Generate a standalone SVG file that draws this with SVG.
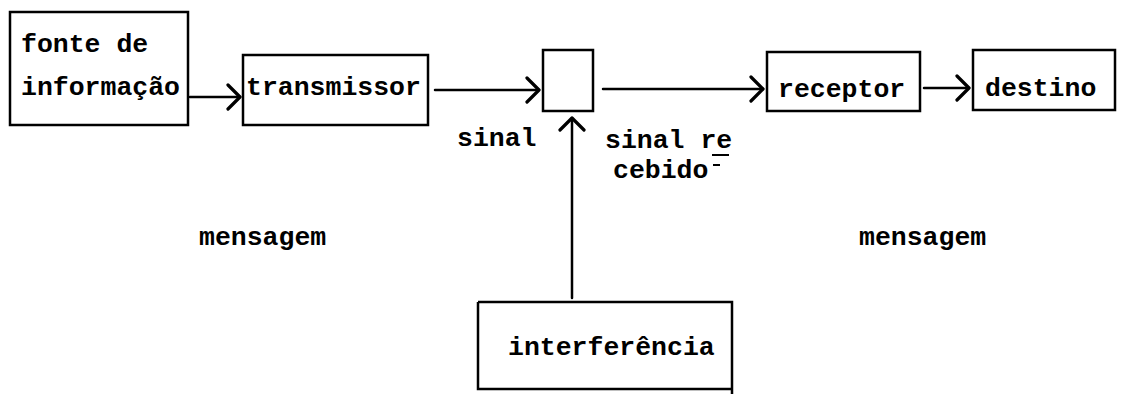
<svg xmlns="http://www.w3.org/2000/svg" width="1123" height="394" viewBox="0 0 1123 394">
<style>
.box{fill:none;stroke:#000;stroke-width:2.5}
.t{font-family:"Liberation Mono","Courier New",monospace;font-size:26.5px;font-weight:bold;fill:#000}
.c{fill:none;stroke:#000;stroke-width:2.5;stroke-linecap:round;stroke-linejoin:round}
</style>
<defs>
<marker id="ah" markerUnits="userSpaceOnUse" markerWidth="20" markerHeight="30" refX="14" refY="15" orient="auto" viewBox="0 0 20 30">
<path d="M2 3 L14 15 L2 27" fill="none" stroke="#000" stroke-width="3.2" stroke-linecap="round" stroke-linejoin="round"/>
</marker>
</defs>
<rect width="1123" height="394" fill="#fff"/>
<g id="fonte">
<rect class="box" x="10" y="12" width="178" height="113"/>
<text class="t" x="21" y="52">fonte de</text>
<text class="t" x="21" y="95">informação</text>
</g>
<g id="transmissor">
<rect class="box" x="243" y="55" width="185" height="70"/>
<text class="t" x="246" y="95">transmissor</text>
</g>
<g id="canal">
<rect class="box" x="543" y="50" width="50" height="61"/>
</g>
<g id="receptor">
<rect class="box" x="767" y="52" width="153" height="59"/>
<text class="t" x="778" y="97">receptor</text>
</g>
<g id="destino">
<rect class="box" x="973" y="50" width="142" height="60"/>
<text class="t" x="985" y="96">destino</text>
</g>
<g id="interferencia">
<path class="box" d="M478 302 H732 V394 M732 389 H478 V302"/>
<text class="t" x="508" y="355">interferência</text>
</g>
<g id="connectors">
<line class="c" x1="190" y1="97" x2="240" y2="97" marker-end="url(#ah)"/>
<line class="c" x1="435" y1="90" x2="539" y2="90" marker-end="url(#ah)"/>
<line class="c" x1="603" y1="89" x2="763" y2="89" marker-end="url(#ah)"/>
<line class="c" x1="924" y1="88" x2="969" y2="88" marker-end="url(#ah)"/>
<line class="c" x1="572" y1="298" x2="572" y2="118" marker-end="url(#ah)"/>
</g>
<g id="labels">
<text class="t" x="457" y="146">sinal</text>
<text class="t" x="605" y="148">sinal re</text>
<line x1="712" y1="155" x2="729" y2="155" stroke="#000" stroke-width="2"/>
<text class="t" x="613" y="178">cebido</text>
<line x1="713" y1="165" x2="720" y2="165" stroke="#000" stroke-width="2"/>
<text class="t" x="199" y="245">mensagem</text>
<text class="t" x="859" y="245">mensagem</text>
</g>
</svg>
